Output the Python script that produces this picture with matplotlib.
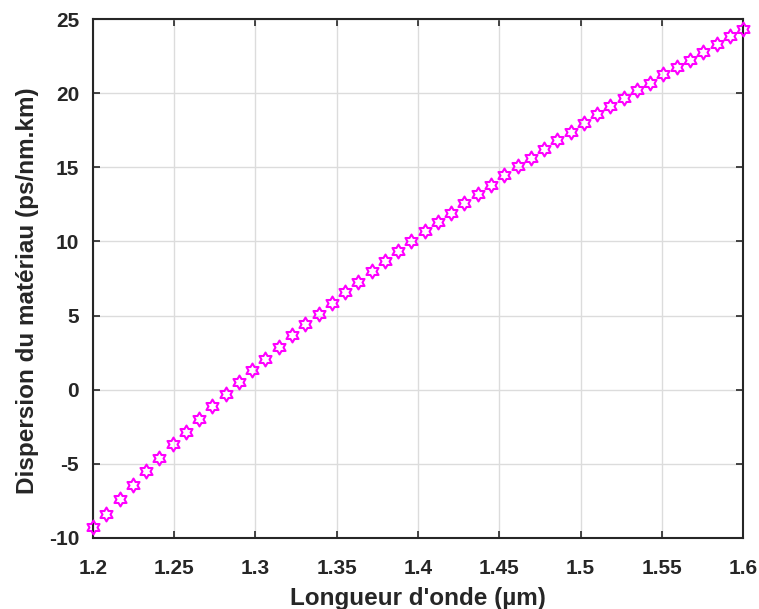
import numpy as np
import matplotlib.pyplot as plt
from matplotlib.path import Path

# wavelength (um) and material dispersion (ps/nm.km)
wavelength = np.linspace(1.2, 1.6, 50)
dispersion = [
    -9.25, -8.35, -7.38, -6.44, -5.50, -4.60, -3.67, -2.84, -2.00, -1.11,
    -0.26, 0.53, 1.36, 2.10, 2.89, 3.67, 4.42, 5.14, 5.88, 6.60,
    7.30, 7.99, 8.66, 9.36, 10.01, 10.69, 11.31, 11.95, 12.60, 13.23,
    13.84, 14.47, 15.07, 15.66, 16.26, 16.82, 17.38, 18.00, 18.58, 19.15,
    19.68, 20.20, 20.72, 21.28, 21.77, 22.27, 22.78, 23.35, 23.86, 24.35,
]
xticks = [1.2, 1.25, 1.3, 1.35, 1.4, 1.45, 1.5, 1.55, 1.6]
xticklabels = ["1.2", "1.25", "1.3", "1.35", "1.4", "1.45", "1.5", "1.55", "1.6"]
yticks = [-10, -5, 0, 5, 10, 15, 20, 25]
yticklabels = ["-10", "-5", "0", "5", "10", "15", "20", "25"]

# six-pointed star outline (MATLAB 'hexagram')
ang = np.pi / 2 + np.arange(12) * np.pi / 6
rad = np.where(np.arange(12) % 2 == 0, 1.0, 0.58)
verts = np.column_stack([rad * np.cos(ang), rad * np.sin(ang)])
verts = np.vstack([verts, verts[:1]])
hexagram = Path(verts, closed=True)

plt.rcParams['font.family'] = ['Liberation Sans', 'DejaVu Sans']

fig = plt.figure(figsize=(7.59, 6.09), dpi=100)
ax = fig.add_axes([0.1225, 0.1166, 0.8565, 0.852])

ax.plot(wavelength, dispersion, linestyle='none', marker=hexagram,
        markersize=10, markerfacecolor='none', markeredgecolor='#ff00ff',
        markeredgewidth=1.5, zorder=3, clip_on=False)

ax.set_xlim(1.2, 1.6)
ax.set_ylim(-10, 25)
ax.set_xticks(xticks)
ax.set_xticklabels(xticklabels)
ax.set_yticks(yticks)
ax.set_yticklabels(yticklabels)

ax.grid(True, color='#dcdcdc', linewidth=1.0)
ax.set_axisbelow(True)
for s in ax.spines.values():
    s.set_linewidth(1.5)
    s.set_color('#262626')

ax.tick_params(direction='in', top=True, right=True, length=5, width=1.2,
               color='#262626', labelsize=15, labelcolor='#262626')
ax.tick_params(axis='x', pad=15)
ax.tick_params(axis='y', pad=10)
for lab in ax.get_xticklabels() + ax.get_yticklabels():
    lab.set_fontweight('bold')

ax.set_xlabel("Longueur d'onde (\u00b5m)", fontsize=17.5, fontweight='bold',
              color='#262626')
ax.set_ylabel("Dispersion du mat\u00e9riau (ps/nm.km)", fontsize=17.5,
              fontweight='bold', color='#262626')
ax.xaxis.set_label_coords(0.5, -0.095)
ax.yaxis.set_label_coords(-0.083, 0.477)

fig.savefig('out.png', dpi=100)
